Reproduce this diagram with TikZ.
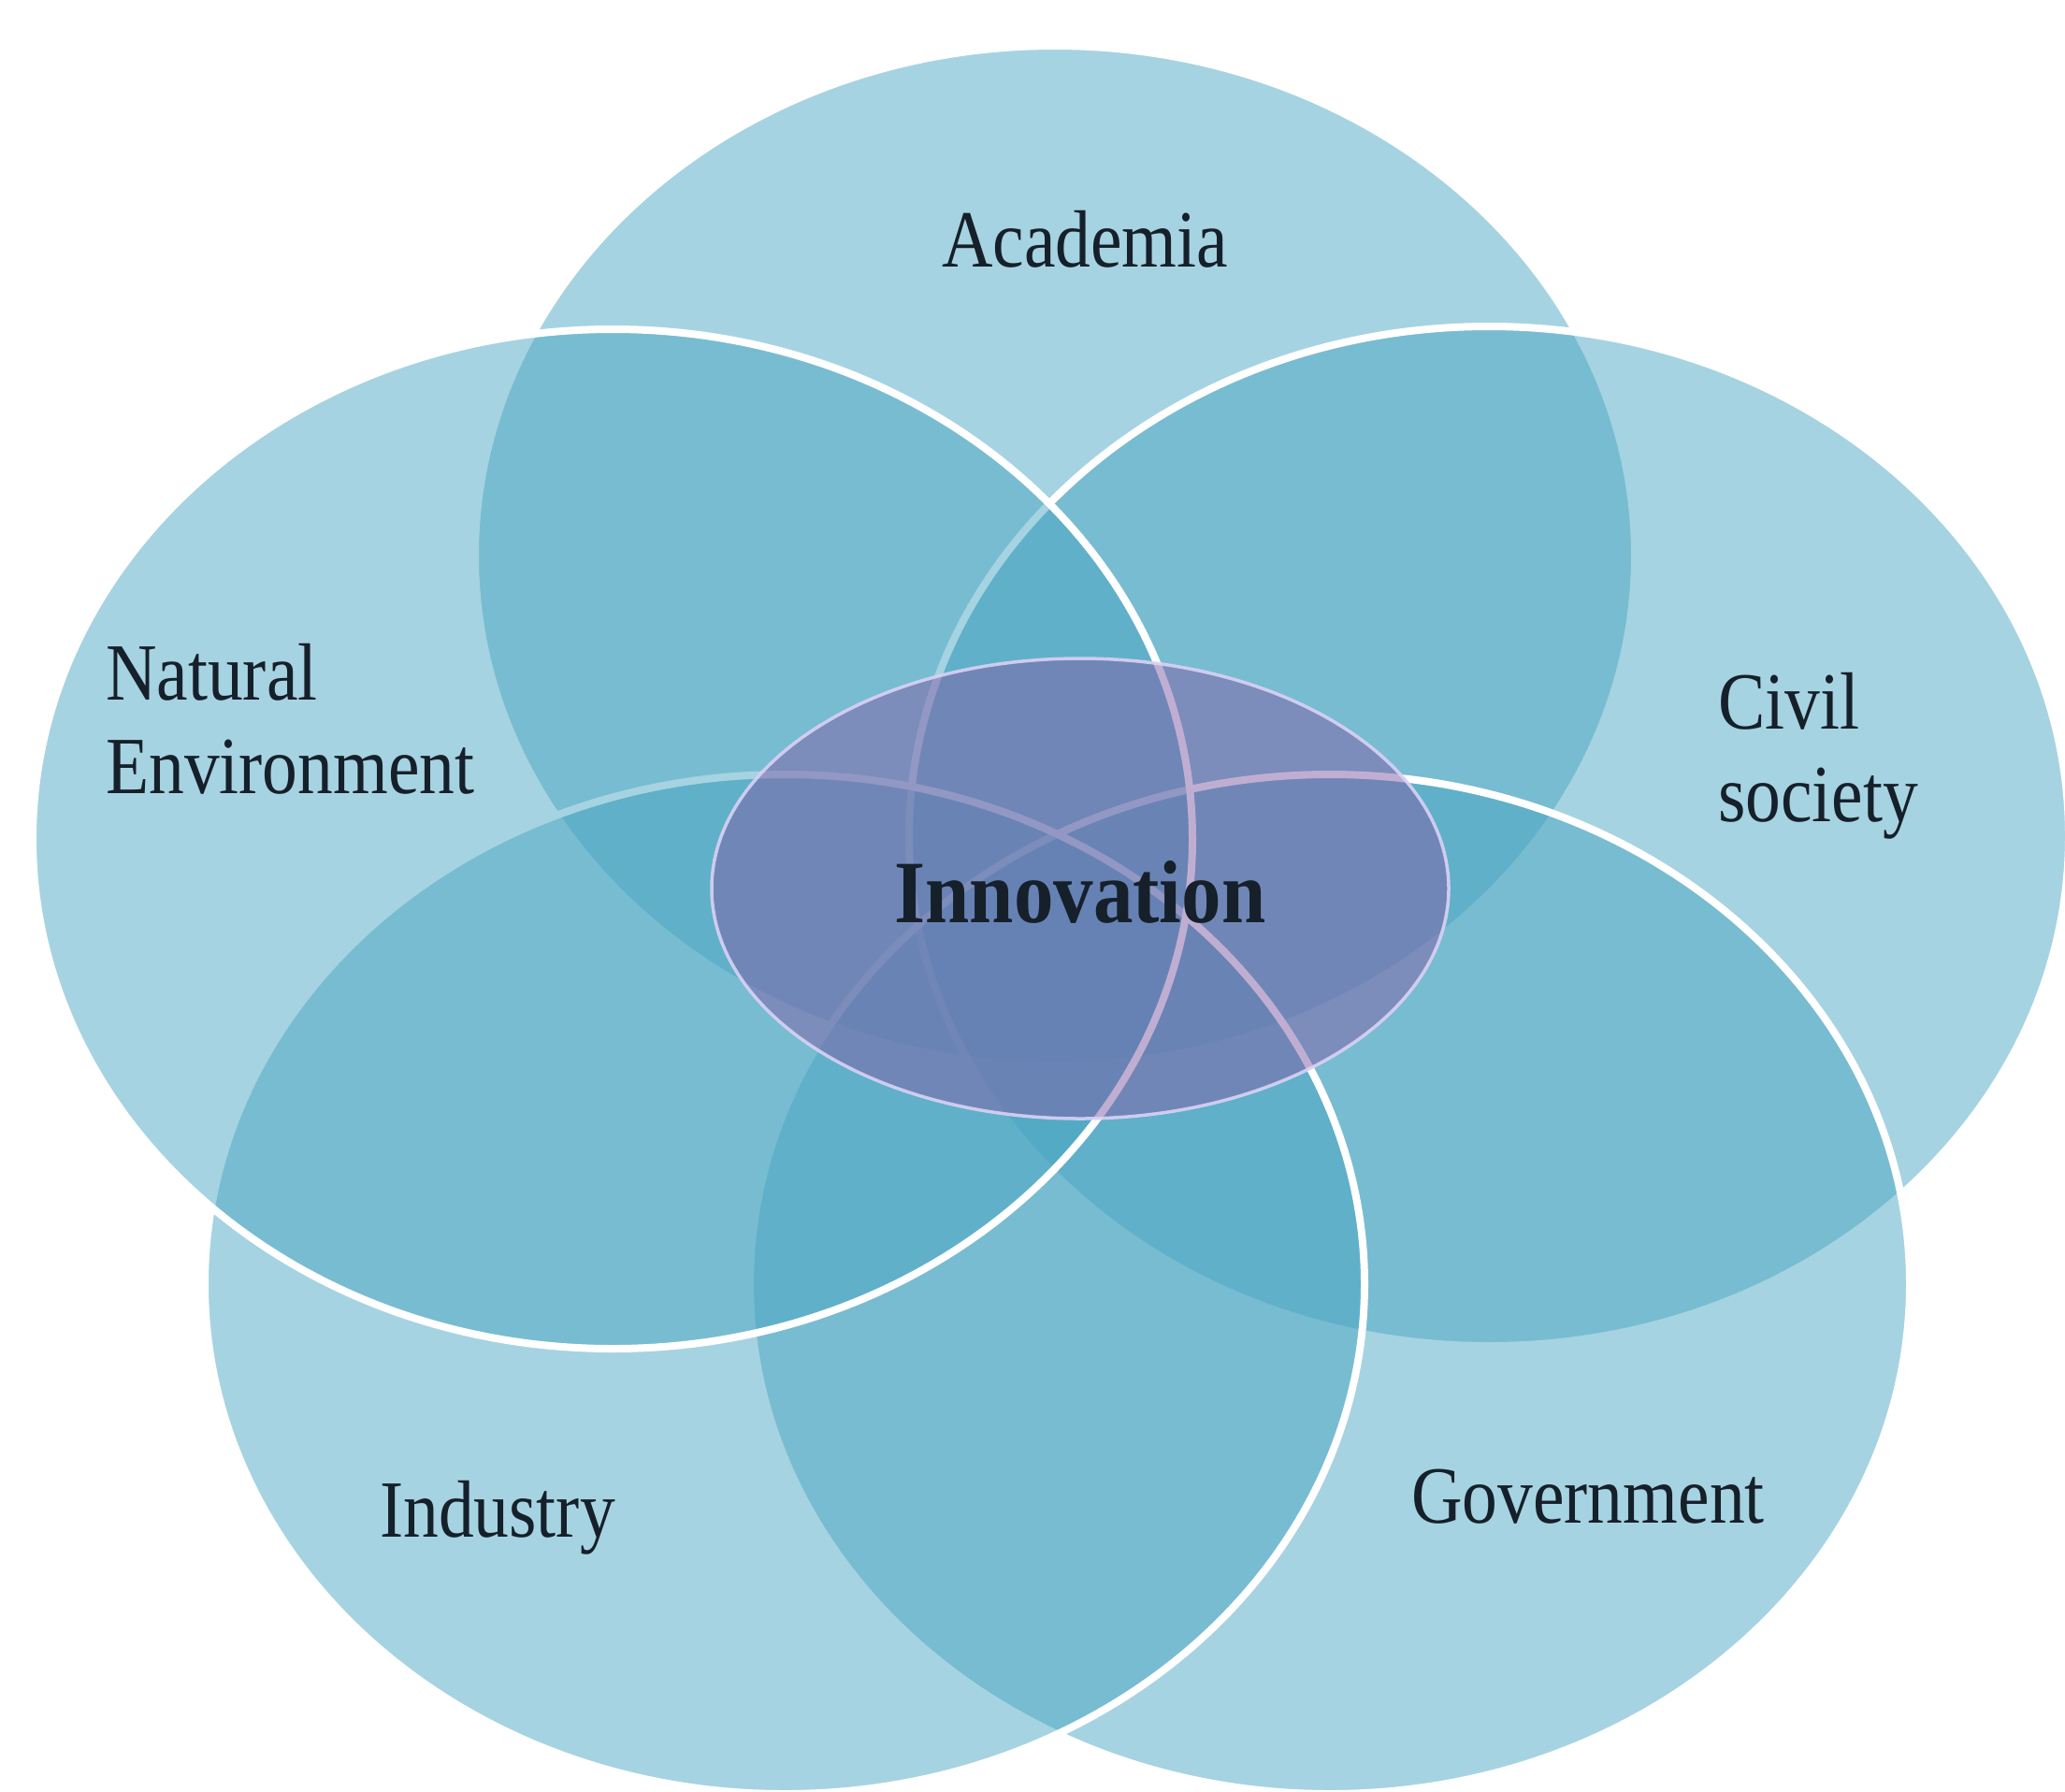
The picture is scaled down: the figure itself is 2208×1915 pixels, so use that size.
\documentclass[tikz,border=0pt]{standalone}
\usepackage{fontspec}
\setmainfont{Liberation Serif}
\usetikzlibrary{shapes.geometric}
\definecolor{petalc}{RGB}{70,165,193}
\definecolor{corec}{RGB}{128,94,167}
\definecolor{corelinec}{RGB}{218,210,245}
\definecolor{inkc}{RGB}{22,32,42}
\tikzset{
  petal/.style={ellipse, minimum width=1240pt, minimum height=1090pt, inner sep=0pt,
    fill=petalc, fill opacity=0.48, draw=white, draw opacity=1, line width=8pt},
  core/.style={ellipse, minimum width=788pt, minimum height=492pt, inner sep=0pt,
    fill=corec, fill opacity=0.5, draw=corelinec, draw opacity=0.9, line width=3.5pt},
  lab/.style={text=inkc, inner sep=0pt, font=\fontsize{75.5}{90}\selectfont},
  corelab/.style={text=inkc, inner sep=0pt, font=\fontsize{85}{100}\selectfont\bfseries},
}
\begin{document}
\begin{tikzpicture}[x=1pt,y=-1pt]
\useasboundingbox (0,0) rectangle (2208,1915);
\fill[white] (0,0) rectangle (2208,1915);
\begin{scope}
\clip (0,0) rectangle (2208,1915);
\node[petal] (acad) at (1128,594) {};
\node[petal] (civil) at (1592,894) {};
\node[petal] (gov) at (1422,1373) {};
\node[petal] (ind) at (839,1373) {};
\node[petal] (nat) at (655,897) {};
\node[core] (innov) at (1155,950) {};
\end{scope}
\node[lab, anchor=base] (tacad) at (1160,285) {\scalebox{1}[1.15]{Academia}};
\node[lab, anchor=base west] (tnat1) at (113,748) {\scalebox{1}[1.15]{Natural}};
\node[lab, anchor=base west] (tnat2) at (113,848) {\scalebox{1}[1.15]{Environment}};
\node[lab, anchor=base west] (tciv1) at (1837,779) {\scalebox{1}[1.15]{Civil}};
\node[lab, anchor=base west] (tciv2) at (1837,878) {\scalebox{1}[1.15]{society}};
\node[lab, anchor=base] (tind) at (532,1643) {\scalebox{1}[1.15]{Industry}};
\node[lab, anchor=base] (tgov) at (1698,1628) {\scalebox{1}[1.15]{Government}};
\node[corelab, anchor=base] (tinn) at (1155,986) {\scalebox{1}[1.12]{Innovation}};
\end{tikzpicture}
\end{document}
